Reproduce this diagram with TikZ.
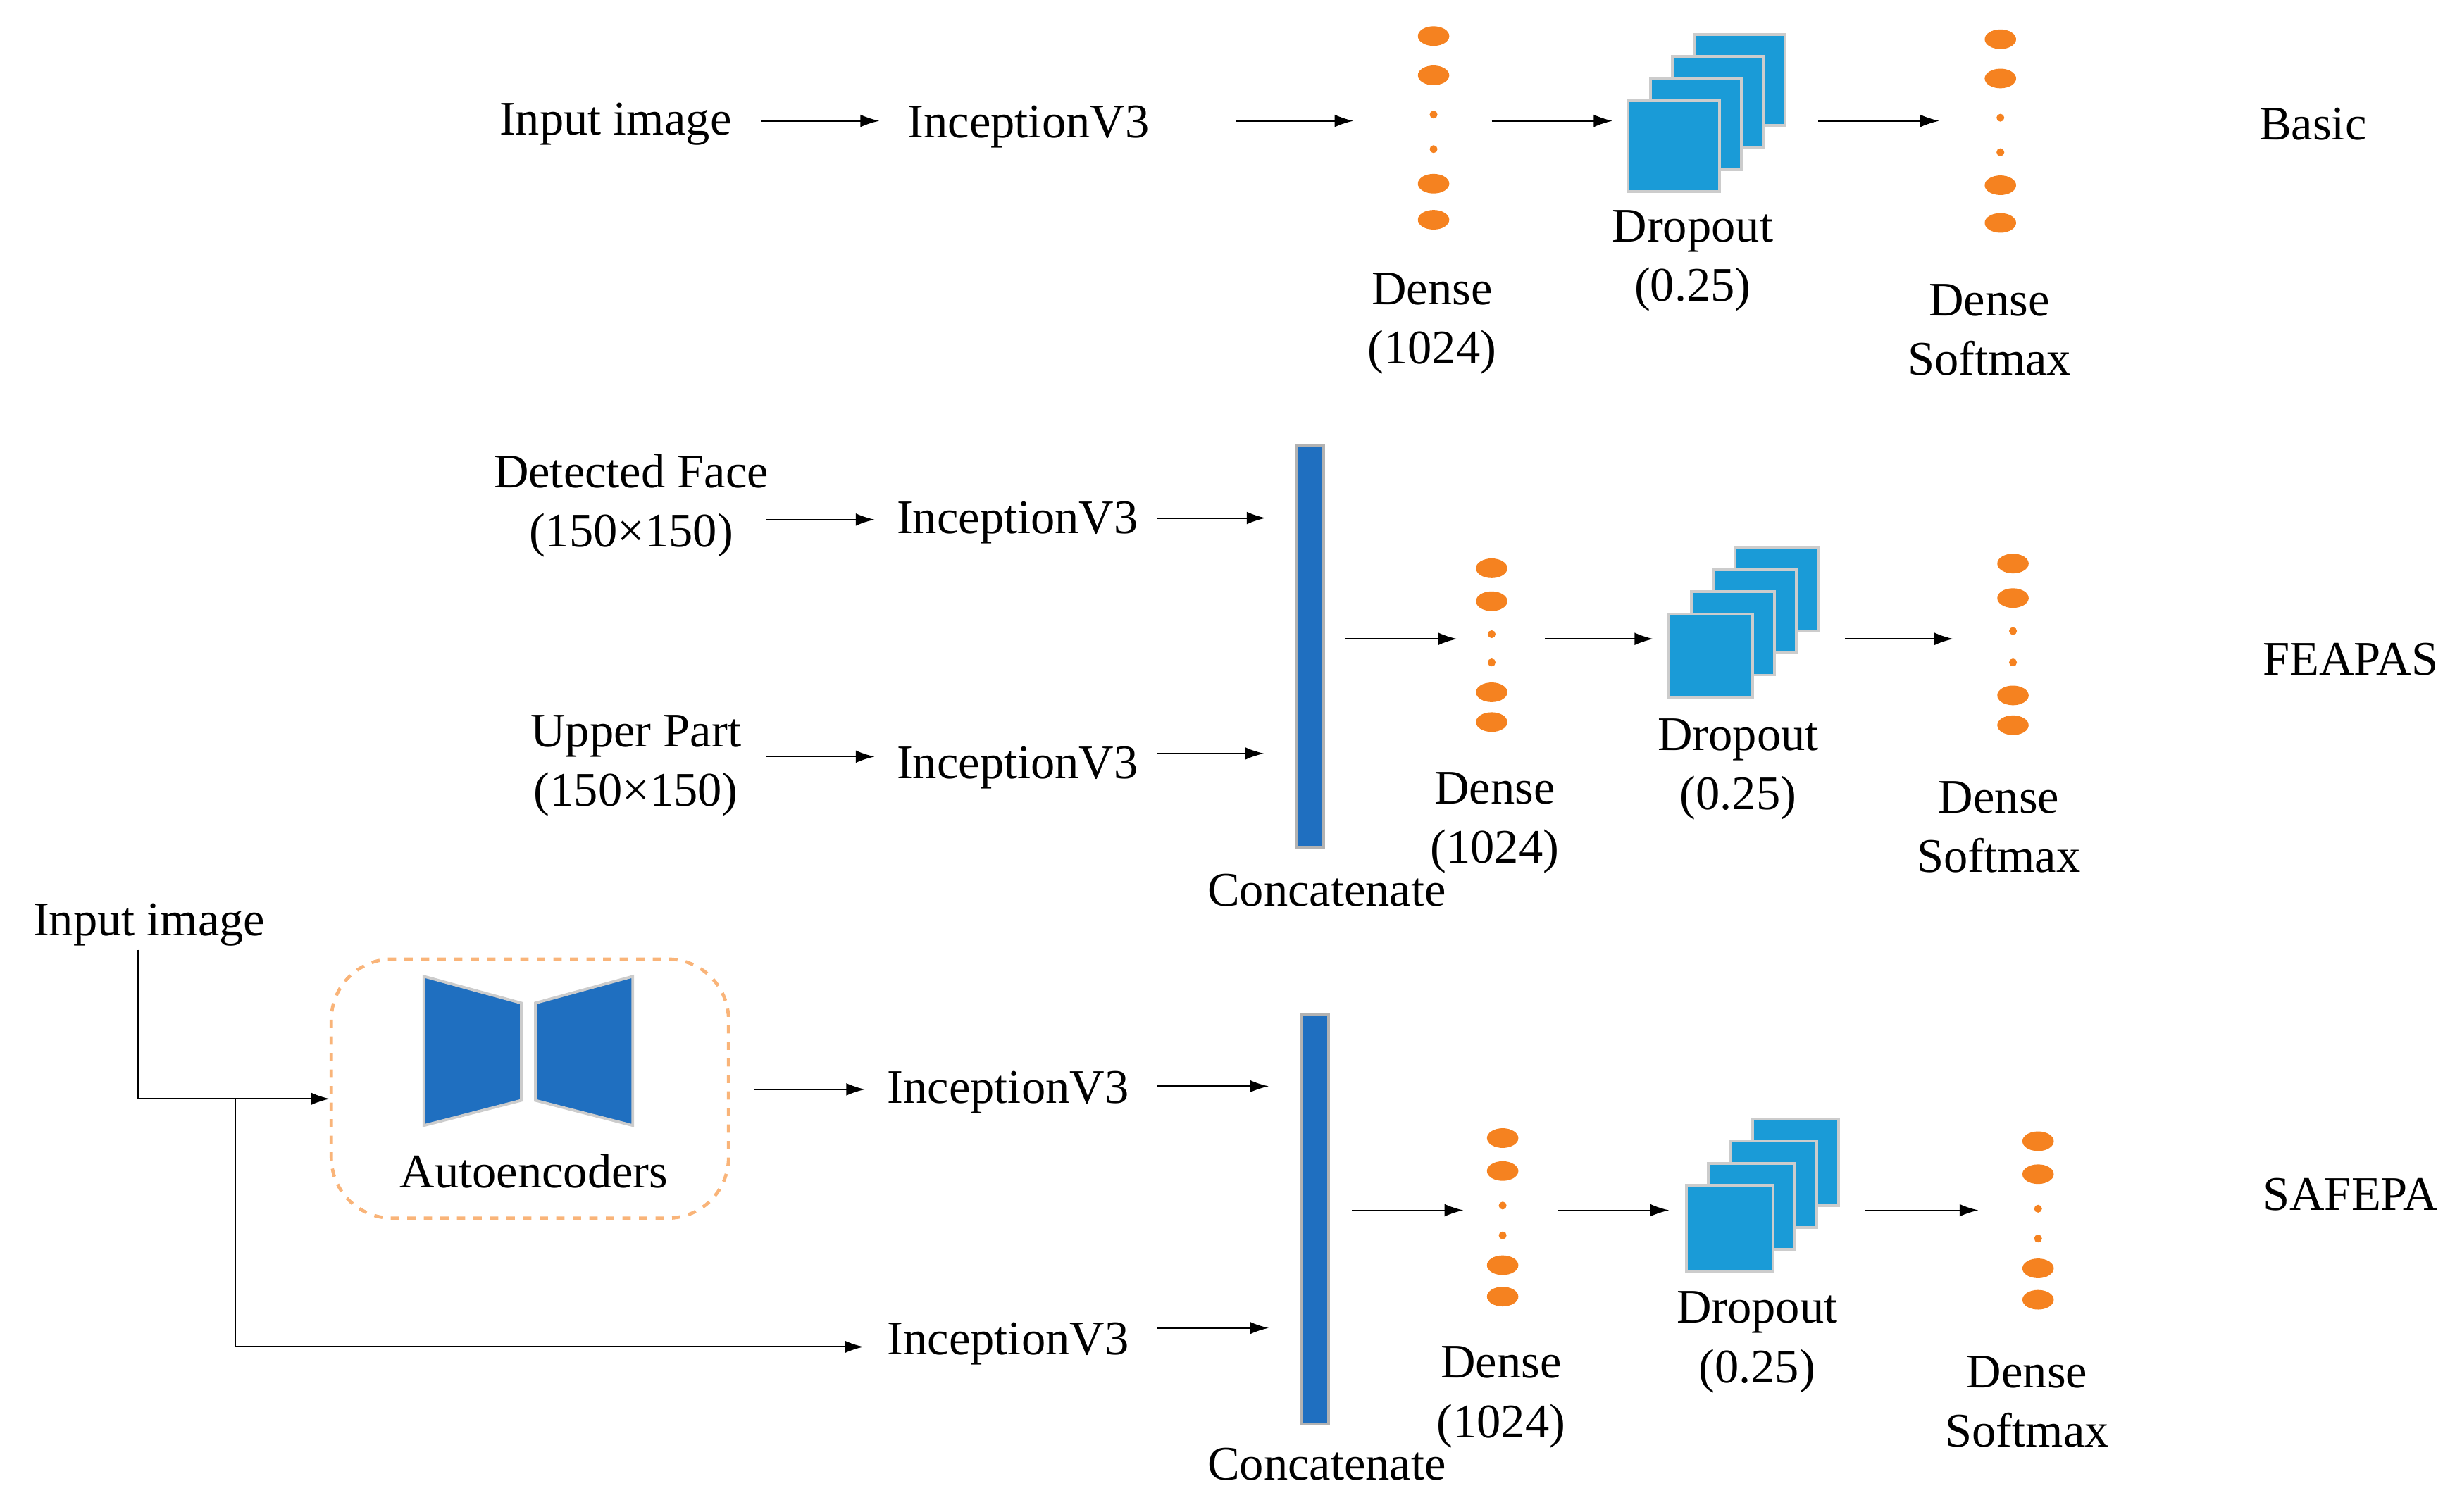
\documentclass[tikz,border=0pt]{standalone}
\usepackage{fontspec}
\setmainfont{Liberation Serif}
\usetikzlibrary{shapes.geometric,arrows.meta}
\begin{document}
\begin{tikzpicture}[x=0.02cm,y=-0.02cm,
  lbl/.style={font=\fontsize{17.5}{21.5}\selectfont,align=center,inner sep=0},
  arr/.style={-{Latex[length=2.4mm,width=1.6mm]},line width=0.5pt},
  el/.style={fill=orng,draw=none,ellipse,minimum width=0.4cm,minimum height=0.25cm,inner sep=0},
  dt/.style={fill=orng,draw=none,circle,minimum size=0.1cm,inner sep=0},
  sq/.style={fill=sqb,draw=gray!40,line width=1pt},
  bar/.style={fill=barb,draw=gray!60,line width=1pt}]
\definecolor{orng}{HTML}{F58220}
\definecolor{sqb}{HTML}{1A9BD7}
\definecolor{barb}{HTML}{1F6FC0}
\useasboundingbox (0,0) rectangle (1568,963);
\newcommand\dcol[7]{%
 \node[el] at (#1,#2){};\node[el] at (#1,#3){};
 \node[dt] at (#1,#4){};\node[dt] at (#1,#5){};
 \node[el] at (#1,#6){};\node[el] at (#1,#7){};}
\newcommand\drop[3]{%
 \foreach \i in {3,2,1,0}{\draw[sq] (#1+14*\i,#2-14*\i) rectangle ++(#3,-#3);}}
% Row 1
\node[lbl] (in1) at (392,79) {Input image};
\node[lbl] (inc1) at (655,81) {InceptionV3};
\draw[arr] (485,77) -- (560,77);
\draw[arr] (787,77) -- (862,77);
\dcol{913}{23}{48}{73}{95}{117}{140}
\draw[arr] (950,77) -- (1027,77);
\drop{1037}{122}{58}
\node[lbl] at (1078,166) {Dropout\\(0.25)};
\node[lbl] at (912,206) {Dense\\(1024)};
\draw[arr] (1158,77) -- (1235,77);
\dcol{1274}{25}{50}{75}{97}{118}{142}
\node[lbl] at (1267,210) {Dense\\Softmax};
\node[lbl] at (1473,79) {Basic};
% Row 2
\node[lbl] at (402,322) {Detected Face\\(150×150)};
\draw[arr] (488,331) -- (557,331);
\node[lbl] at (648,333) {InceptionV3};
\draw[arr] (737,330) -- (806,330);
\draw[bar] (826,284) rectangle (843,540);
\node[lbl] at (405,488) {Upper Part\\(150×150)};
\draw[arr] (488,482) -- (557,482);
\node[lbl] at (648,489) {InceptionV3};
\draw[arr] (737,480) -- (805,480);
\draw[arr] (857,407) -- (928,407);
\dcol{950}{362}{383}{404}{422}{441}{460}
\draw[arr] (984,407) -- (1053,407);
\drop{1063}{444}{53}
\node[lbl] at (1107,490) {Dropout\\(0.25)};
\node[lbl] at (952,524) {Dense\\(1024)};
\draw[arr] (1175,407) -- (1244,407);
\dcol{1282}{359}{381}{402}{422}{443}{462}
\node[lbl] at (1273,527) {Dense\\Softmax};
\node[lbl] at (1497,420) {FEAPAS};
\node[lbl] at (845,567) {Concatenate};
% Row 3
\node[lbl] at (95,589) {Input image};
\draw[arr] (88,605) -- (88,700) -- (210,700);
\draw[arr] (150,700) -- (150,858) -- (550,858);
\draw[orng!60,dashed,line width=1.2pt,rounded corners=22] (211,611) rectangle (464,776);
\fill[barb] (270,622) -- (332,639) -- (332,701) -- (270,717) -- cycle;
\fill[barb] (403,622) -- (341,639) -- (341,701) -- (403,717) -- cycle;
\draw[gray!40,line width=1pt] (270,622) -- (332,639) -- (332,701) -- (270,717) -- cycle;
\draw[gray!40,line width=1pt] (403,622) -- (341,639) -- (341,701) -- (403,717) -- cycle;
\node[lbl] at (340,746) {Autoencoders};
\draw[arr] (480,694) -- (551,694);
\node[lbl] at (642,696) {InceptionV3};
\draw[arr] (737,692) -- (808,692);
\draw[bar] (829,646) rectangle (846,907);
\node[lbl] at (642,856) {InceptionV3};
\draw[arr] (737,846) -- (808,846);
\draw[arr] (861,771) -- (932,771);
\dcol{957}{725}{746}{768}{787}{806}{826}
\draw[arr] (992,771) -- (1063,771);
\drop{1074}{810}{55}
\node[lbl] at (1119,855) {Dropout\\(0.25)};
\node[lbl] at (956,890) {Dense\\(1024)};
\draw[arr] (1188,771) -- (1260,771);
\dcol{1298}{727}{748}{770}{789}{808}{828}
\node[lbl] at (1291,893) {Dense\\Softmax};
\node[lbl] at (1497,761) {SAFEPA};
\node[lbl] at (845,933) {Concatenate};
\end{tikzpicture}
\end{document}
